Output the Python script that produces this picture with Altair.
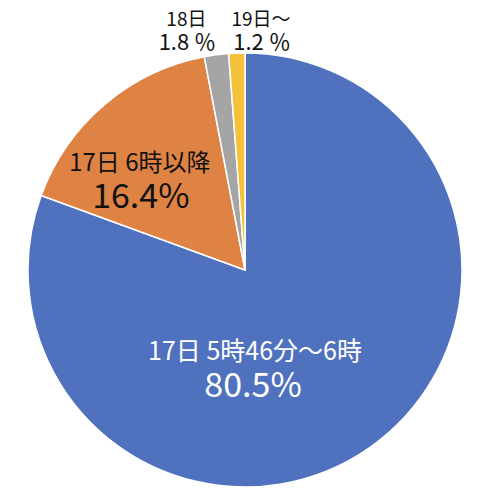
import altair as alt
import pandas as pd

# share of responses by period
periods = ["17日 5時46分～6時", "17日 6時以降", "18日", "19日～"]
shares = [80.5, 16.4, 1.8, 1.2]
share_text = ["80.5%", "16.4%", "1.8 ％", "1.2 ％"]
slice_colors = ["#4F71BE", "#DE8344", "#A5A5A5", "#F3C13A"]

df = pd.DataFrame({
    "period": periods,
    "share": shares,
    "pct": share_text,
    "order": list(range(len(periods))),
})

FONT = "Noto Sans CJK JP"

base = alt.Chart(df).encode(
    theta=alt.Theta("share:Q", stack=True),
    order=alt.Order("order:Q"),
    detail="period:N",
    x=alt.value(237),
    y=alt.value(262),
)

pie = base.mark_arc(outerRadius=217, stroke="white", strokeWidth=1.5).encode(
    color=alt.Color(
        "period:N",
        scale=alt.Scale(domain=periods, range=slice_colors),
        legend=None,
    )
)

# (period, field, radius, dx, dy, size, colour)
label_specs = [
    (periods[0], "period", 110, -53, -8, 25, "white"),
    (periods[0], "pct", 110, -55, 27, 34, "white"),
    (periods[1], "period", 130, -21, -7, 24, "#111111"),
    (periods[1], "pct", 130, -20, 27, 34, "#111111"),
    (periods[2], "period", 240, -27, -12, 19, "#111111"),
    (periods[2], "pct", 240, -26, 11, 22, "#111111"),
    (periods[3], "period", 240, 25, -10, 19, "#111111"),
    (periods[3], "pct", 240, 26, 13, 22, "#111111"),
]

layers = [pie]
for period, field, r, dx, dy, size, colour in label_specs:
    layers.append(
        base.mark_text(
            radius=r, dx=dx, dy=dy, fontSize=size, color=colour,
            font=FONT, align="center", baseline="middle",
        ).encode(
            text=alt.condition(
                alt.datum.period == period,
                alt.Text(f"{field}:N"),
                alt.value(""),
            )
        )
    )

chart = alt.layer(*layers).properties(
    width=464, height=484, padding=0, autosize="none"
).configure_view(stroke=None)

chart.save("out.html", embed_options={"renderer": "svg", "actions": False})
